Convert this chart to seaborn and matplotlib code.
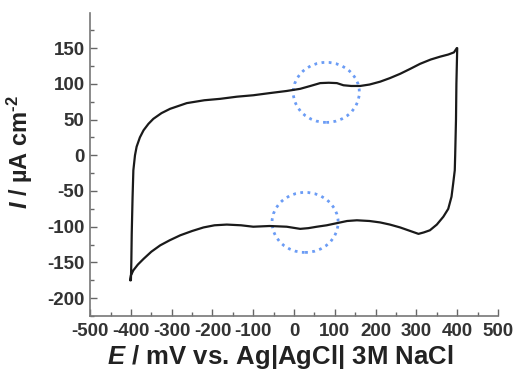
import numpy as np
import pandas as pd
import matplotlib
matplotlib.use("Agg")
import matplotlib.pyplot as plt
from matplotlib.patches import Ellipse
from matplotlib.ticker import MultipleLocator
import seaborn as sns

# forward scan (-400 -> 400 mV)
E_fwd = [-400, -399, -398, -396, -394, -390, -386, -378, -369, -357, -345, -325, -304,
         -263, -220, -181, -140, -100, -60, -18, 15, 40, 64, 85, 105, 121, 140, 162,
         185, 211, 235, 260, 285, 309, 335, 358, 378, 392, 399]
I_fwd = [-175, -150, -110, -60, -21, 0, 12, 25, 35, 44, 51, 59, 65,
         73, 77, 79, 82, 84, 87, 90, 93, 97, 101, 101.5, 101, 98, 97, 97,
         99, 103, 108, 114, 121, 128, 134, 138, 141, 144, 150]
# reverse scan (400 -> -400 mV)
E_rev = [400, 398, 397, 395, 394, 390, 386, 378, 366, 350, 333, 318, 305, 285, 260,
         235, 211, 185, 154, 130, 105, 80, 56, 35, 15, -18, -60, -100, -130, -165,
         -195, -222, -250, -279, -305, -328, -350, -369, -383, -394, -400, -402]
I_rev = [150, 100, 50, 0, -21, -40, -58, -75, -86, -97, -105, -108, -110, -106, -101,
         -97, -94, -92, -91, -92, -95, -98, -100, -102, -103, -100, -99, -100, -98, -97,
         -98, -101, -106, -112, -119, -126, -135, -145, -153, -161, -168, -175]

# dotted circles marking the redox features
circle_centres = [(79, 88), (27, -94)]

x_ticks = list(range(-500, 501, 100))
y_ticks = list(range(-200, 151, 50))

df = pd.DataFrame({"E": E_fwd + E_rev, "I": I_fwd + I_rev})

sns.set_style("white")
plt.rcParams["font.family"] = ["Liberation Sans", "DejaVu Sans"]
plt.rcParams["mathtext.fontset"] = "custom"
plt.rcParams["mathtext.it"] = "Liberation Sans:italic:bold"
plt.rcParams["mathtext.rm"] = "Liberation Sans:bold"
plt.rcParams["mathtext.bf"] = "Liberation Sans:bold"
plt.rcParams["axes.unicode_minus"] = False

fig = plt.figure(figsize=(5.15, 3.74), dpi=100)
ax = fig.add_axes([0.175, 0.155, 0.792, 0.81])

sns.lineplot(data=df, x="E", y="I", sort=False, estimator=None, color="#1a1a1a",
             linewidth=1.6, ax=ax)

for c in circle_centres:
    ax.add_patch(Ellipse(c, 162, 84, fill=False, edgecolor="#6b9cf5",
                         linestyle=(0, (1, 1.6)), linewidth=2.0))

ax.set_xlim(-500, 500)
ax.set_ylim(-225, 199)
ax.set_xticks(x_ticks)
ax.set_yticks(y_ticks)
ax.xaxis.set_minor_locator(MultipleLocator(50))
ax.yaxis.set_minor_locator(MultipleLocator(25))
ax.tick_params(which="major", direction="in", length=5, width=1, color="#666666",
               labelsize=13.5, labelcolor="#333333", pad=4)
ax.tick_params(which="minor", direction="in", length=3, width=1, color="#666666")
ax.tick_params(axis="x", which="both", bottom=True, pad=5)
ax.tick_params(axis="y", which="both", left=True)
for lab in ax.get_xticklabels() + ax.get_yticklabels():
    lab.set_fontweight("bold")

for s in ["top", "right"]:
    ax.spines[s].set_visible(False)
for s in ["left", "bottom"]:
    ax.spines[s].set_color("#777777")
    ax.spines[s].set_linewidth(1.2)

ax.set_xlabel("$E$ / mV vs. Ag|AgCl| 3M NaCl", fontsize=18.5, fontweight="bold",
              color="#222222")
ax.set_ylabel(r"$I$ / µA cm$^{\text{-2}}$", fontsize=17, fontweight="bold",
              color="#222222")
ax.xaxis.set_label_coords(0.465, -0.088)
ax.yaxis.set_label_coords(-0.135, 0.54)

fig.savefig("out.png", dpi=100)
